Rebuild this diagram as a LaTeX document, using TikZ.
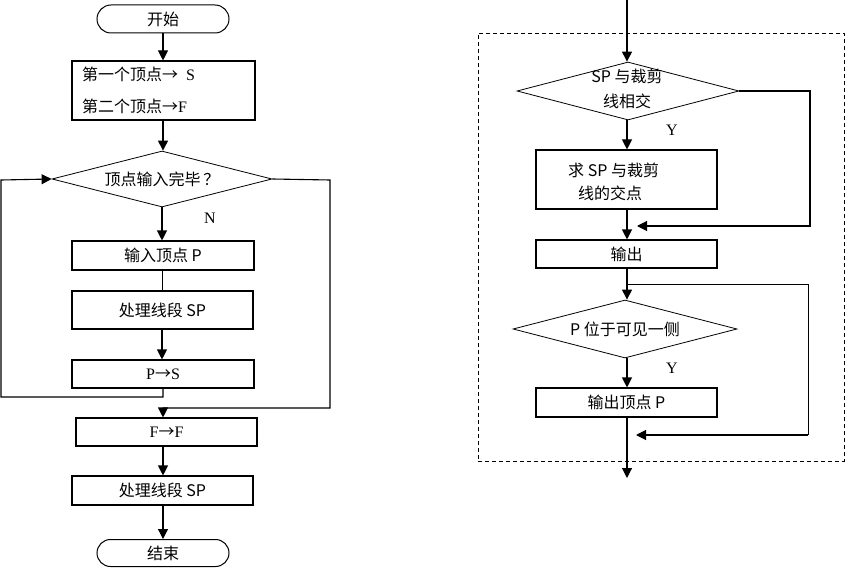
\documentclass[tikz,border=0pt]{standalone}
\usepackage{fontspec}
\setmainfont{Noto Sans CJK SC}
\newfontfamily\serifl{Liberation Serif}
\usetikzlibrary{arrows.meta,shapes.geometric,shapes.misc}
\tikzset{
  every node/.style={font=\fontsize{16}{19}\selectfont},
  flow/.style={line width=1pt},
  arr/.style={line width=1.1pt,-{Triangle[width=10pt,length=10pt]}},
  box/.style={draw,line width=1.1pt,minimum width=181pt,minimum height=28pt,inner sep=0pt},
  term/.style={draw,line width=1pt,rounded rectangle,minimum width=132pt,minimum height=28pt,inner sep=0pt},
  dia/.style={draw,line width=0.8pt,diamond,aspect=3.8,inner sep=0pt},
  lbl/.style={font=\serifl\fontsize{16}{18}\selectfont},
}
\begin{document}
\begin{tikzpicture}[x=1pt,y=-1pt]
\useasboundingbox (0,0) rectangle (848,580);
% ---------- left flowchart ----------
\node[term] (start) at (163,19) {开始};
\node[box,minimum width=183pt,minimum height=59pt] (b1) at (163.5,90.5) {};
\node[anchor=west,inner sep=0pt] (t1) at (82,74) {第一个顶点→\hspace{8pt}{\serifl S}};
\node[anchor=west,inner sep=0pt] (t2) at (82,106) {第二个顶点→{\serifl F}};
\node[dia,minimum width=220pt,minimum height=56pt] (d1) at (162,179) {顶点输入完毕\,？};
\node[lbl] (n1) at (210,218) {N};
\node[box,minimum width=182pt,minimum height=29pt] (b2) at (163,255.5) {输入顶点 P};
\node[box,minimum height=38pt] (b3) at (162.5,310) {处理线段 SP};
\node[box,minimum width=182pt] (b4) at (163,374) {{\serifl P}→{\serifl S}};
\node[box] (b5) at (166.5,432) {{\serifl F}→{\serifl F}};
\node[box,minimum height=29pt] (b6) at (162.5,490.5) {处理线段 SP};
\node[term,minimum height=27pt] (end) at (163,553) {结束};
\coordinate (l1) at (163,397);
\coordinate (l2) at (1,397);
\coordinate (l3) at (1,180);
\coordinate (r1) at (330,180);
\coordinate (r2) at (330,408);
\coordinate (r3) at (163,408);
\draw[arr] (start.south) -- (start.south |- b1.north);
\draw[arr] (b1.south -| start.south) -- (start.south |- d1.north);
\draw[arr] (d1.south) -- (d1.south |- b2.north);
\draw[flow] (b2.south -| d1.south) -- (d1.south |- b3.north);
\draw[arr] (b3.south -| d1.south) -- (d1.south |- b4.north);
\draw[arr] (b4.south -| l1) -- (l1) -- (l2) -- (l3) -- (d1.west);
\draw[arr] (d1.east) -- (r1) -- (r2) -- (r3) -- (r3 |- b5.north);
\draw[arr] (b5.south -| r3) -- (r3 |- b6.north);
\draw[arr] (b6.south -| r3) -- (r3 |- end.north);
% ---------- right flowchart ----------
\node[draw,dashed,line width=0.8pt,dash pattern=on 4pt off 3pt,minimum width=366pt,minimum height=428pt,inner sep=0pt] (frame) at (661,247) {};
\coordinate (top) at (627,0);
\node[dia,minimum width=222pt,minimum height=58pt,align=center] (d2) at (628,91) {};
\node[inner sep=0pt] (d2a) at (627,76) {SP 与裁剪};
\node[inner sep=0pt] (d2b) at (627,101) {线相交};
\node[lbl] (y1) at (672,130) {Y};
\node[box,minimum height=59pt] (b7) at (626.5,179.5) {};
\node[anchor=west,inner sep=0pt] (b7a) at (568,170) {求 SP 与裁剪};
\node[anchor=west,inner sep=0pt] (b7b) at (578,193) {线的交点};
\node[box] (b8) at (626.5,254) {输出};
\node[dia,minimum width=224pt,minimum height=58pt] (d3) at (625,329) {P 位于可见一侧};
\node[lbl] (y2) at (672,368) {Y};
\node[box,minimum height=29pt] (b9) at (626.5,402.5) {输出顶点 P};
\coordinate (e1) at (810,91);
\coordinate (e2) at (810,226);
\coordinate (e3) at (637,226);
\coordinate (j1) at (627,284);
\coordinate (f1) at (808,284);
\coordinate (f2) at (808,435);
\coordinate (f3) at (636,435);
\coordinate (bot) at (627,478);
\draw[arr] (top) -- (top |- d2.north);
\draw[arr] (d2.south -| top) -- (top |- b7.north);
\draw[arr] (b7.south -| top) -- (top |- b8.north);
\draw[arr] (d2.east) -- (e1) -- (e2) -- (e3);
\draw[arr] (b8.south -| top) -- (top |- d3.north);
\draw[flow] (j1) -- (f1) -- (f2);
\draw[arr] (f2) -- (f3);
\draw[arr] (d3.south -| top) -- (top |- b9.north);
\draw[arr] (b9.south -| top) -- (bot);
\end{tikzpicture}
\end{document}
